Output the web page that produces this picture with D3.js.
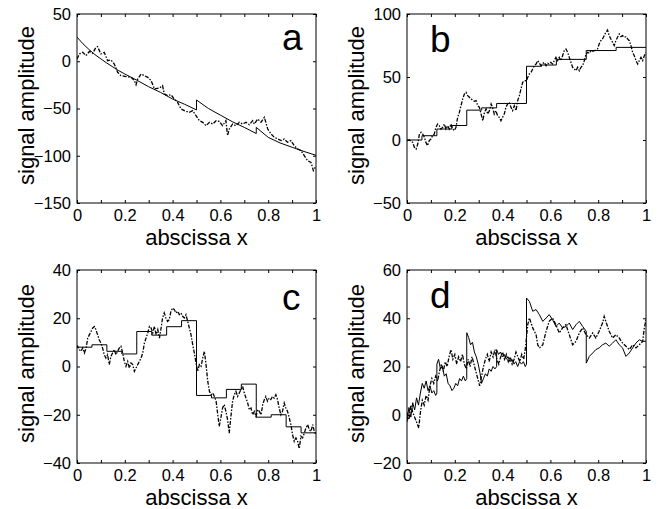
<!DOCTYPE html>
<html>
<head>
<meta charset="utf-8">
<script src="https://cdn.jsdelivr.net/npm/d3@7"></script>
<style>
  body { margin: 0; background: #fff; }
  svg { display: block; }
</style>
</head>
<body>
<script>
// panel a: smooth trend with two jumps, and the noisy signal
var aSmooth = [[0, 25.5], [0.025, 18.5], [0.05, 12.5], [0.075, 7], [0.1, 2.5], [0.125, -2], [0.15, -6], [0.175, -10],
  [0.2, -13.5], [0.25, -20], [0.3, -27], [0.35, -33], [0.4, -40], [0.45, -45.5], [0.5, -51.5],
  [0.5, -41], [0.55, -50], [0.6, -57], [0.65, -64], [0.7, -70], [0.75, -76.5],
  [0.75, -70], [0.8, -80.5], [0.85, -86.5], [0.9, -91], [0.95, -95.5], [1, -99.5]];
var aNoisy = [[0, 2.4], [0.01, 7.7], [0.024, 9.4], [0.038, 5.9], [0.052, 10.5], [0.066, 8.4], [0.079, 14.7], [0.086, 15.4],
  [0.1, 7.7], [0.114, 9.4], [0.128, 0.6], [0.142, 1.3], [0.156, -2.9], [0.17, -11.7], [0.184, -15.2], [0.205, -16.3],
  [0.226, -17], [0.24, -20.5], [0.247, -24.8], [0.254, -18.8], [0.268, -13.5], [0.282, -15.2], [0.296, -17], [0.31, -20.5],
  [0.324, -29.4], [0.345, -28.3], [0.358, -25.8], [0.365, -34.6], [0.379, -36.4], [0.393, -35.4], [0.407, -39.9],
  [0.421, -43.5], [0.435, -50.5], [0.449, -52.3], [0.47, -54], [0.484, -52.3], [0.498, -57.6], [0.512, -62.9],
  [0.526, -64.6], [0.54, -68.2], [0.554, -64.6], [0.568, -66.4], [0.582, -62.9], [0.595, -63.6], [0.609, -68.2],
  [0.623, -62.9], [0.63, -78.7], [0.637, -71.7], [0.651, -66.4], [0.665, -68.2], [0.679, -64.6], [0.693, -66.4],
  [0.707, -64.6], [0.721, -67.1], [0.735, -62.9], [0.742, -66.4], [0.756, -61.1], [0.77, -64.6], [0.784, -59.3],
  [0.798, -71.7], [0.812, -77], [0.826, -80.5], [0.84, -82.3], [0.854, -84], [0.867, -82.3], [0.881, -85.8],
  [0.895, -84], [0.909, -89.3], [0.923, -92.8], [0.937, -94.6], [0.951, -99.9], [0.965, -105.2], [0.979, -107],
  [0.989, -115.8], [0.997, -112.2]];

// panel b: staircase and noisy signal
var bStepX = [0, 0.0625, 0.125, 0.1875, 0.25, 0.3125, 0.375, 0.4375, 0.5, 0.5625, 0.625, 0.75, 0.875, 1];
var bStepY = [0, 3.4, 8.7, 11.5, 23.7, 25.5, 29, 29, 58.5, 59.5, 64, 71, 73.5, 73.5];
var bNoisy = [[0, -0.5], [0.01, 0], [0.024, -1.9], [0.031, -5.8], [0.038, -7.2], [0.045, -3.2], [0.052, 4.7], [0.059, 6.1],
  [0.066, 4.7], [0.073, 2.1], [0.079, -1.9], [0.086, -4.5], [0.093, -0.5], [0.1, 0.8], [0.107, 3.4], [0.114, 4.7],
  [0.121, 10], [0.128, 12.7], [0.135, 11.4], [0.142, 8.7], [0.149, 10], [0.156, 12.7], [0.163, 8.7], [0.17, 11.4],
  [0.177, 8.7], [0.184, 12.7], [0.191, 8.7], [0.198, 7.4], [0.205, 10], [0.212, 18], [0.219, 21.9], [0.226, 27.2],
  [0.233, 32.5], [0.24, 36.5], [0.247, 37.8], [0.254, 35.2], [0.261, 33.9], [0.268, 32.5], [0.275, 31.7], [0.282, 30.7],
  [0.289, 31.2], [0.296, 27.2], [0.303, 25.9], [0.31, 20.6], [0.317, 15.3], [0.324, 21.9], [0.331, 24.6], [0.338, 20.6],
  [0.345, 23.3], [0.352, 28.6], [0.358, 25.9], [0.365, 20.6], [0.372, 23.3], [0.379, 19.3], [0.386, 18], [0.393, 15.3],
  [0.4, 18], [0.407, 20.6], [0.414, 25.9], [0.421, 28.6], [0.428, 29.9], [0.435, 25.9], [0.442, 23.3], [0.449, 27.2],
  [0.456, 23.3], [0.463, 31.2], [0.47, 35.2], [0.477, 40.5], [0.484, 45.8], [0.491, 47.1], [0.5, 47],
  [0.505, 49.7], [0.512, 52.4], [0.519, 53.7], [0.526, 56.3], [0.533, 59], [0.54, 60.3], [0.547, 63], [0.554, 60.8],
  [0.561, 59], [0.568, 60.8], [0.575, 61.6], [0.582, 59], [0.589, 60.8], [0.595, 60.3], [0.602, 61.6], [0.609, 60.3],
  [0.616, 63], [0.623, 65.6], [0.63, 63], [0.637, 65.6], [0.644, 63], [0.651, 66.9], [0.658, 70.9], [0.665, 72.2],
  [0.672, 69.6], [0.679, 65.6], [0.686, 61.6], [0.693, 57.7], [0.7, 56.3], [0.707, 55], [0.714, 57.7], [0.721, 55],
  [0.728, 57.7], [0.735, 59], [0.742, 63], [0.749, 68.2], [0.756, 69.6], [0.763, 68.8], [0.77, 70.9], [0.777, 70.4],
  [0.784, 70.9], [0.79, 71.4], [0.797, 72.2], [0.804, 76.2], [0.811, 78.8], [0.818, 80.2], [0.825, 82.8], [0.832, 85.4],
  [0.839, 87.3], [0.846, 82.8], [0.853, 80.2], [0.86, 77.5], [0.867, 74.9], [0.874, 78.8], [0.881, 81.5], [0.888, 84.1],
  [0.895, 82], [0.902, 82.8], [0.909, 81.5], [0.916, 82], [0.923, 80.2], [0.93, 78.8], [0.937, 74.9], [0.944, 69.6],
  [0.951, 66.9], [0.958, 63], [0.965, 60.3], [0.972, 63], [0.979, 65.6], [0.986, 63], [0.993, 66.9], [1, 69.6]];

// panel c: staircase and noisy signal
var cStepX = [0, 0.0625, 0.125, 0.1875, 0.25, 0.3125, 0.375, 0.4375, 0.5, 0.5625, 0.625, 0.6875, 0.75, 0.8125, 0.875, 0.9375, 1];
var cStepY = [8, 9, 6.3, 5.2, 14.5, 13, 16.5, 19, -12, -13, -9.5, -7.3, -21, -20, -25, -27.5, -27.5];
var cNoisy = [[0, 7.7], [0.003, 8.4], [0.01, 7], [0.017, 6.3], [0.024, 7.7], [0.031, 5.6], [0.038, 7.7], [0.045, 11.8],
  [0.052, 13.2], [0.059, 14.6], [0.066, 16], [0.073, 16.6], [0.079, 15.3], [0.086, 13.2], [0.093, 11.1], [0.1, 9.7],
  [0.107, 7.7], [0.114, 4.9], [0.121, 3.5], [0.128, 4.9], [0.135, 0.8], [0.142, 4.2], [0.149, 5.6], [0.156, 7],
  [0.163, 4.9], [0.17, 6.3], [0.177, 7.7], [0.184, 8.4], [0.191, 5.6], [0.198, 2.1], [0.205, 0.1], [0.212, 2.1],
  [0.219, -0.6], [0.226, 1.5], [0.233, 0.8], [0.24, -2], [0.247, -0.6], [0.254, 0.8], [0.261, 2.1], [0.268, 3.5],
  [0.275, 5.6], [0.282, 9.7], [0.289, 11.8], [0.296, 13.9], [0.303, 16.6], [0.31, 16], [0.317, 13.9], [0.324, 16.6],
  [0.331, 13.2], [0.338, 15.3], [0.345, 11.8], [0.352, 16], [0.358, 20.1], [0.365, 22.2], [0.372, 20.1], [0.379, 18.7],
  [0.386, 19.4], [0.393, 22.9], [0.4, 24.2], [0.407, 23.6], [0.414, 22.2], [0.421, 22.9], [0.428, 21.5], [0.435, 22.2],
  [0.442, 20.8], [0.449, 20.1], [0.456, 21.5], [0.463, 18.7], [0.47, 16], [0.477, 13.2], [0.484, 9.1], [0.491, 5.6],
  [0.498, 1.5], [0.505, -2], [0.512, 0.8], [0.519, 0.1], [0.526, 3.5], [0.533, 6.3], [0.54, 0.8], [0.547, -6.1],
  [0.554, -10.3], [0.561, -11.7], [0.568, -11], [0.575, -12.4], [0.582, -14.4], [0.589, -20], [0.595, -24.8],
  [0.602, -21.3], [0.609, -17.2], [0.616, -15.8], [0.623, -18.6], [0.63, -22], [0.637, -27.6], [0.644, -20.7],
  [0.651, -14.4], [0.658, -11.7], [0.665, -10.3], [0.672, -12.4], [0.679, -11], [0.686, -9.6], [0.693, -8.2],
  [0.7, -11], [0.707, -13.1], [0.714, -15.1], [0.721, -17.9], [0.728, -17.2], [0.735, -20], [0.742, -18.6],
  [0.749, -20.7], [0.756, -17.9], [0.763, -18.6], [0.77, -20], [0.777, -15.8], [0.784, -13.7], [0.79, -12.4],
  [0.797, -14.4], [0.804, -13.1], [0.811, -13.7], [0.818, -12.4], [0.825, -13.1], [0.832, -11.7], [0.839, -13.7],
  [0.846, -17.2], [0.853, -20], [0.86, -18.6], [0.867, -15.1], [0.874, -17.2], [0.881, -18.6], [0.888, -21.3],
  [0.895, -24.1], [0.902, -28.3], [0.909, -31], [0.916, -29.6], [0.923, -31], [0.93, -34], [0.937, -28.9],
  [0.944, -29.6], [0.951, -27.6], [0.958, -25.5], [0.965, -24.1], [0.972, -26.2], [0.979, -26.9], [0.986, -24.1],
  [0.993, -26.9], [1, -28.3]];

// panel d: two noisy signals
var dSolid = [[0, -3], [0.008, 3], [0.016, -1], [0.024, 5], [0.032, 2], [0.04, 7], [0.048, 4], [0.056, 9], [0.064, 13],
  [0.072, 11], [0.08, 14], [0.088, 10], [0.096, 12], [0.104, 9], [0.112, 10], [0.12, 8], [0.125, 9], [0.125, 21],
  [0.132, 23], [0.14, 19], [0.148, 20], [0.156, 16], [0.164, 17], [0.172, 13], [0.18, 12], [0.188, 10], [0.196, 11],
  [0.204, 13], [0.212, 12], [0.22, 15], [0.228, 14], [0.236, 16], [0.244, 14], [0.25, 15], [0.25, 34], [0.258, 32],
  [0.266, 29], [0.274, 30], [0.282, 26], [0.29, 24], [0.298, 21], [0.306, 17], [0.312, 13], [0.32, 15], [0.328, 17],
  [0.336, 16], [0.344, 19], [0.352, 18], [0.36, 20], [0.368, 19], [0.375, 20], [0.375, 27], [0.383, 25], [0.391, 26],
  [0.399, 24], [0.407, 25], [0.415, 23], [0.423, 24], [0.431, 22], [0.439, 23], [0.447, 21], [0.455, 22], [0.463, 20],
  [0.471, 22], [0.479, 21], [0.487, 22], [0.495, 20], [0.5, 21], [0.5, 48.4], [0.512, 47], [0.526, 42.9], [0.54, 43.6],
  [0.554, 41.5], [0.568, 38.7], [0.582, 40.1], [0.595, 41.5], [0.609, 39.4], [0.623, 36.6], [0.637, 38], [0.651, 36],
  [0.665, 36.6], [0.679, 38], [0.693, 35.3], [0.707, 37.3], [0.721, 38.7], [0.735, 36.6], [0.75, 34.6], [0.75, 21.4],
  [0.763, 24.2], [0.777, 25.6], [0.79, 27], [0.804, 27.7], [0.818, 29], [0.832, 29.7], [0.846, 28.4], [0.86, 29.7],
  [0.874, 31.1], [0.888, 29], [0.902, 27.7], [0.916, 24.2], [0.93, 25.6], [0.944, 27.7], [0.958, 29.7], [0.972, 31.1],
  [0.986, 30.4], [1, 30.5]];
var dNoisy = [[0, 1], [0.008, -2], [0.016, 4], [0.024, 1], [0.032, -1], [0.04, -3], [0.049, -5.5], [0.056, 1], [0.064, 6],
  [0.072, 4], [0.08, 8], [0.088, 6], [0.096, 12], [0.104, 15], [0.112, 13], [0.12, 16], [0.128, 14], [0.136, 18],
  [0.144, 21], [0.152, 18], [0.16, 22], [0.168, 20], [0.176, 24], [0.184, 27], [0.192, 23], [0.2, 25], [0.208, 21],
  [0.216, 24], [0.224, 22], [0.232, 25], [0.24, 21], [0.248, 19], [0.256, 23], [0.264, 20], [0.272, 24], [0.28, 21],
  [0.288, 18], [0.296, 15], [0.304, 12], [0.312, 16], [0.32, 20], [0.328, 23], [0.336, 25], [0.344, 22], [0.352, 26],
  [0.36, 24], [0.368, 27], [0.376, 23], [0.384, 21], [0.392, 24], [0.4, 26], [0.408, 23], [0.416, 25], [0.424, 22],
  [0.432, 24], [0.44, 21], [0.448, 23], [0.456, 26], [0.464, 24], [0.472, 22], [0.48, 25], [0.488, 23], [0.496, 28],
  [0.505, 37.3], [0.512, 40.1], [0.526, 36], [0.54, 33.2], [0.547, 29], [0.554, 27.7], [0.568, 29], [0.575, 31.8],
  [0.582, 34.6], [0.595, 38.7], [0.609, 40.1], [0.623, 37.3], [0.637, 33.9], [0.651, 36], [0.665, 37.3], [0.679, 33.2],
  [0.693, 29], [0.707, 30.4], [0.721, 33.9], [0.735, 36], [0.749, 33.2], [0.763, 31.8], [0.777, 33.9], [0.79, 31.8],
  [0.804, 34.6], [0.818, 38], [0.825, 40.8], [0.832, 38.7], [0.846, 34.6], [0.86, 31.8], [0.874, 33.2], [0.888, 31.8],
  [0.902, 29.7], [0.916, 28.4], [0.93, 27], [0.944, 29], [0.958, 27.7], [0.972, 29], [0.986, 30.4], [0.993, 36], [1, 39.4]];

var xTicks = [0, 0.1, 0.2, 0.3, 0.4, 0.5, 0.6, 0.7, 0.8, 0.9, 1];
var xTickLabels = {"0": "0", "0.2": "0.2", "0.4": "0.4", "0.6": "0.6", "0.8": "0.8", "1": "1"};
var aYTicks = [-150, -100, -50, 0, 50];
var bYTicks = [-50, 0, 50, 100];
var cYTicks = [-40, -20, 0, 20, 40];
var dYTicks = [-20, 0, 20, 40, 60];

function steps(xs, ys) {
  return xs.map(function(x, i) { return [x, ys[i]]; });
}

var w = 665, h = 509;
var font = "'Liberation Sans', Arial, Helvetica, sans-serif";
var svg = d3.select("body").append("svg").attr("width", w).attr("height", h);

var panels = [
  {left: 77, top: 14, bottom: 203, ticks: aYTicks, letter: "a", lx: 282, ly: 50,
   solid: aSmooth, solidCurve: d3.curveLinear, noisy: aNoisy},
  {left: 407, top: 14, bottom: 203, ticks: bYTicks, letter: "b", lx: 430, ly: 52,
   solid: steps(bStepX, bStepY), solidCurve: d3.curveStepAfter, noisy: bNoisy},
  {left: 77, top: 270, bottom: 463, ticks: cYTicks, letter: "c", lx: 282, ly: 310,
   solid: steps(cStepX, cStepY), solidCurve: d3.curveStepAfter, noisy: cNoisy},
  {left: 407, top: 270, bottom: 463, ticks: dYTicks, letter: "d", lx: 430, ly: 308,
   solid: dSolid, solidCurve: d3.curveLinear, noisy: dNoisy}
];

panels.forEach(function(p) {
  var pw = 239;
  var x = d3.scaleLinear().domain([0, 1]).range([p.left, p.left + pw]);
  var y = d3.scaleLinear().domain([p.ticks[0], p.ticks[p.ticks.length - 1]]).range([p.bottom, p.top]);
  var g = svg.append("g");

  var clipId = "clip" + p.letter;
  svg.append("clipPath").attr("id", clipId).append("rect")
    .attr("x", p.left).attr("y", p.top).attr("width", pw).attr("height", p.bottom - p.top);

  var line = d3.line().x(function(d) { return x(d[0]); }).y(function(d) { return y(d[1]); });

  g.append("path").datum(p.noisy)
    .attr("clip-path", "url(#" + clipId + ")")
    .attr("d", line)
    .attr("fill", "none").attr("stroke", "#000").attr("stroke-width", 1.3)
    .attr("stroke-dasharray", "4,1.5,1.5,1.5");

  g.append("path").datum(p.solid)
    .attr("clip-path", "url(#" + clipId + ")")
    .attr("d", line.curve(p.solidCurve))
    .attr("fill", "none").attr("stroke", "#000").attr("stroke-width", 1);

  // axes, ticks inward
  var fmtX = function(d) {
    var k = String(+d.toFixed(1));
    return xTickLabels[k] !== undefined ? xTickLabels[k] : "";
  };
  var fmtY = function(d) { return d < 0 ? "\u2212" + Math.abs(d) : String(d); };

  var axes = [
    g.append("g").attr("transform", "translate(0," + p.bottom + ")")
      .call(d3.axisBottom(x).tickValues(xTicks).tickSize(-3).tickPadding(6).tickFormat(fmtX)),
    g.append("g").attr("transform", "translate(0," + p.top + ")")
      .call(d3.axisTop(x).tickValues(xTicks).tickSize(-3).tickFormat("")),
    g.append("g").attr("transform", "translate(" + p.left + ",0)")
      .call(d3.axisLeft(y).tickValues(p.ticks).tickSize(-3).tickPadding(6).tickFormat(fmtY)),
    g.append("g").attr("transform", "translate(" + (p.left + pw) + ",0)")
      .call(d3.axisRight(y).tickValues(p.ticks).tickSize(-3).tickFormat(""))
  ];
  axes.forEach(function(a) {
    a.attr("font-family", font).attr("font-size", 16.5);
    a.select(".domain").remove();
    a.selectAll("line").attr("stroke", "#000");
    a.selectAll("text").attr("fill", "#000");
  });

  g.append("rect").attr("x", p.left).attr("y", p.top).attr("width", pw).attr("height", p.bottom - p.top)
    .attr("fill", "none").attr("stroke", "#000").attr("stroke-width", 1);

  g.append("text").attr("x", p.left + pw / 2).attr("y", p.bottom + 42)
    .attr("text-anchor", "middle").attr("font-family", font).attr("font-size", 22)
    .text("abscissa x");

  g.append("text")
    .attr("transform", "translate(" + (p.left - 43) + "," + ((p.top + p.bottom) / 2 - 3) + ") rotate(-90)")
    .attr("text-anchor", "middle").attr("font-family", font).attr("font-size", 22)
    .text("signal amplitude");

  g.append("text").attr("x", p.lx).attr("y", p.ly)
    .attr("font-family", font).attr("font-size", 37)
    .text(p.letter);
});
</script>
</body>
</html>
